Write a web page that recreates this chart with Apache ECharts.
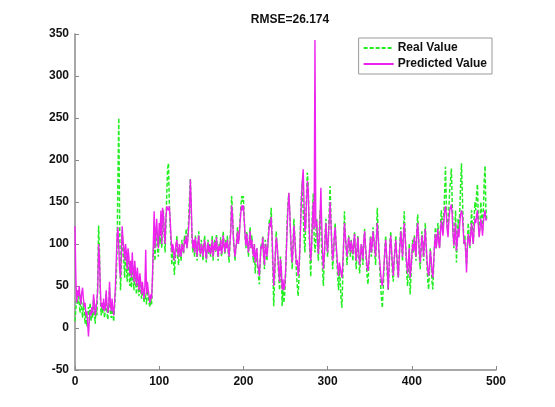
<!DOCTYPE html>
<html>
<head>
<meta charset="utf-8">
<script src="https://cdn.jsdelivr.net/npm/echarts@6/dist/echarts.min.js"></script>
<style>
  html, body { margin: 0; padding: 0; background: #fff; }
  #chart { width: 555px; height: 407px; }
</style>
</head>
<body>
<div id="chart"></div>
<script>
// Observed series, one value per sample (sample index is the x value)
const realValue = [
  8, 22, 35, 28, 45, 30, 18, 40, 25, 12,
  30, 20, 5, 18, 2, 10, 25, 15, 30, 8,
  20, 12, 35, 18, 5, 28, 15, 60, 122, 95,
  40, 15, 25, 18, 30, 12, 22, 40, 18, 10,
  25, 48, 20, 12, 30, 15, 8, 25, 40, 60,
  95, 180, 250, 130, 45, 70, 115, 98, 80, 60,
  90, 75, 55, 85, 70, 50, 65, 48, 80, 60,
  45, 70, 55, 40, 62, 50, 38, 55, 45, 35,
  48, 40, 30, 42, 35, 28, 45, 38, 30, 25,
  35, 28, 55, 90, 110, 80, 105, 120, 95, 85,
  115, 100, 130, 95, 120, 140, 110, 90, 125, 160,
  190, 196, 150, 120, 100, 75, 95, 85, 63, 80,
  95, 110, 85, 75, 100, 90, 80, 105, 95, 88,
  110, 100, 118, 95, 110, 130, 155, 178, 140, 105,
  90, 100, 85, 110, 95, 80, 100, 115, 90, 85,
  105, 95, 80, 100, 110, 90, 78, 95, 105, 88,
  100, 85, 95, 110, 80, 98, 105, 90, 112, 95,
  80, 100, 92, 108, 85, 95, 115, 100, 88, 105,
  95, 110, 90, 78, 100, 120, 157, 140, 110, 95,
  80, 95, 105, 120, 100, 110, 130, 145, 157, 150,
  157, 130, 110, 95, 115, 100, 85, 105, 120, 95,
  110, 90, 78, 100, 65, 85, 95, 70, 60, 52,
  80, 100, 95, 110, 85, 70, 105, 95, 80, 100,
  118, 130, 125, 143, 110, 70, 26, 55, 90, 115,
  100, 80, 60, 45, 85, 70, 26, 50, 30, 40,
  60, 95, 130, 150, 160, 140, 110, 85, 70, 100,
  130, 110, 90, 65, 50, 38, 60, 95, 130, 160,
  175, 140, 110, 90, 125, 160, 185, 170, 120, 85,
  61, 100, 140, 160, 110, 90, 105, 130, 100, 80,
  110, 140, 120, 95, 70, 50, 80, 110, 130, 100,
  85, 110, 140, 169, 130, 95, 70, 85, 110, 125,
  100, 80, 60, 45, 70, 55, 35, 24, 60, 100,
  139, 110, 95, 75, 90, 110, 100, 85, 105, 95,
  80, 100, 115, 90, 70, 95, 110, 85, 65, 80,
  100, 90, 75, 105, 118, 95, 80, 60, 52, 75,
  95, 110, 85, 100, 120, 105, 90, 75, 110, 143,
  115, 90, 70, 50, 35, 24, 45, 70, 95, 110,
  85, 60, 45, 70, 100, 115, 90, 65, 55, 80,
  95, 110, 85, 70, 60, 85, 105, 120, 100, 80,
  110, 139, 115, 90, 65, 50, 75, 100, 40, 60,
  85, 105, 90, 110, 95, 80, 120, 135, 110, 85,
  70, 95, 115, 100, 80, 105, 125, 100, 75, 55,
  46, 70, 95, 80, 55, 46, 75, 100, 120, 95,
  110, 125, 105, 95, 120, 140, 130, 115, 135, 160,
  192, 150, 120, 110, 140, 165, 175, 190, 150, 115,
  95, 120, 140, 78, 105, 130, 115, 140, 170, 196,
  160, 125, 100, 110, 90, 75, 100, 125, 110, 95,
  120, 140, 115, 100, 130, 150, 140, 160, 171, 130,
  110, 125, 150, 135, 115, 140, 175, 193, 140, 130
];

// Model output for the same samples
const predictedValue = [
  121, 60, 30, 45, 38, 50, 35, 28, 42, 48,
  35, 25, 30, 15, 20, 5, -10, 10, 20, 15,
  25, 18, 40, 30, 15, 22, 20, 45, 100, 85,
  50, 25, 30, 22, 35, 20, 25, 45, 28, 18,
  25, 55, 30, 20, 35, 22, 15, 30, 50, 80,
  110, 120, 95, 70, 60, 85, 121, 105, 95, 80,
  100, 90, 70, 95, 85, 65, 80, 60, 90, 70,
  55, 80, 65, 50, 72, 60, 45, 65, 55, 40,
  55, 45, 35, 50, 93, 40, 55, 45, 38, 30,
  40, 35, 60, 100, 139, 95, 115, 130, 105, 95,
  125, 110, 140, 100, 143, 135, 115, 100, 130, 145,
  147, 140, 145, 130, 110, 90, 100, 95, 80, 90,
  100, 105, 90, 85, 100, 92, 85, 100, 95, 90,
  105, 100, 110, 95, 105, 120, 140, 177, 150, 110,
  95, 105, 90, 108, 98, 85, 102, 110, 92, 88,
  100, 95, 85, 98, 105, 92, 82, 95, 102, 90,
  98, 88, 95, 105, 85, 96, 102, 92, 108, 95,
  85, 98, 92, 105, 88, 95, 110, 100, 90, 102,
  95, 105, 92, 85, 100, 115, 146, 135, 110, 95,
  85, 95, 102, 115, 100, 108, 125, 138, 146, 140,
  146, 128, 110, 98, 112, 100, 90, 102, 115, 95,
  105, 92, 85, 100, 78, 88, 95, 75, 70, 62,
  82, 98, 95, 108, 88, 75, 100, 95, 85, 98,
  112, 125, 120, 132, 110, 80, 50, 65, 88, 108,
  100, 85, 68, 55, 82, 72, 46, 58, 45, 50,
  65, 90, 120, 145, 161, 140, 112, 90, 78, 98,
  122, 108, 90, 75, 81, 62, 70, 92, 125, 155,
  175, 189, 150, 115, 120, 150, 175, 165, 125, 95,
  80, 98, 128, 150, 118, 343, 120, 128, 105, 88,
  105, 130, 167, 125, 90, 70, 85, 105, 125, 102,
  90, 108, 130, 150, 125, 98, 80, 90, 108, 120,
  102, 88, 72, 62, 78, 80, 78, 60, 75, 100,
  125, 110, 98, 85, 95, 108, 100, 90, 104, 96,
  88, 100, 112, 92, 80, 95, 108, 90, 75, 85,
  100, 92, 82, 105, 115, 98, 85, 72, 68, 80,
  95, 108, 90, 100, 115, 105, 95, 85, 105, 125,
  110, 92, 78, 65, 55, 50, 60, 75, 92, 105,
  88, 70, 46, 72, 98, 110, 92, 75, 62, 80,
  92, 105, 88, 75, 60, 82, 100, 115, 100, 85,
  105, 125, 110, 92, 75, 65, 80, 95, 60, 70,
  85, 100, 92, 108, 95, 85, 115, 125, 108, 90,
  78, 95, 110, 100, 85, 102, 118, 100, 82, 68,
  62, 75, 92, 82, 68, 60, 78, 98, 112, 95,
  105, 118, 102, 95, 112, 128, 120, 110, 125, 140,
  145, 135, 118, 108, 128, 140, 138, 147, 135, 112,
  98, 112, 125, 92, 102, 118, 108, 125, 135, 140,
  135, 118, 100, 105, 92, 66, 95, 112, 105, 98,
  112, 125, 110, 100, 118, 130, 125, 135, 140, 122,
  108, 118, 130, 122, 110, 125, 135, 140, 128, 130
];

const seriesNames = ['Real Value', 'Predicted Value'];
const titleText = 'RMSE=26.174';
const xTicks = { min: 0, max: 500, step: 100 };
const yTicks = { min: -50, max: 350, step: 50 };

const toPairs = arr => arr.map((v, i) => [i, v]);

const FONT = '"Liberation Sans", Arial, sans-serif';
const AXIS_GREY = '#8a8a8a';

const chart = echarts.init(document.getElementById('chart'), null, { renderer: 'canvas' });

const axisCommon = {
  type: 'value',
  axisLine: { show: true, onZero: false, lineStyle: { color: AXIS_GREY, width: 1.5 } },
  axisTick: { show: true, inside: true, length: 4, lineStyle: { color: AXIS_GREY } },
  splitLine: { show: false },
  axisLabel: { color: '#111', fontSize: 12, fontFamily: FONT, fontWeight: 'bold' }
};

chart.setOption({
  animation: false,
  backgroundColor: '#ffffff',
  title: {
    text: titleText,
    left: 285,
    textAlign: 'center',
    top: 9,
    textStyle: { fontSize: 12, fontWeight: 'bold', color: '#111', fontFamily: FONT }
  },
  legend: {
    data: seriesNames,
    orient: 'vertical',
    right: 63,
    top: 38,
    backgroundColor: '#ffffff',
    borderColor: '#999',
    borderWidth: 1,
    borderRadius: 0,
    padding: [4, 5, 4, 4],
    itemGap: 4,
    itemWidth: 30,
    itemHeight: 14,
    itemStyle: { opacity: 0 },
    textStyle: { fontSize: 12, fontWeight: 'bold', color: '#111', fontFamily: FONT, padding: [0, 0, 0, -1] }
  },
  grid: { left: 75, right: 59, top: 34, bottom: 37, containLabel: false },
  xAxis: Object.assign({}, axisCommon, {
    min: xTicks.min, max: xTicks.max, interval: xTicks.step,
    axisLabel: Object.assign({}, axisCommon.axisLabel, { margin: 6 })
  }),
  yAxis: Object.assign({}, axisCommon, {
    min: yTicks.min, max: yTicks.max, interval: yTicks.step,
    axisLabel: Object.assign({}, axisCommon.axisLabel, { margin: 6 })
  }),
  series: [
    {
      name: seriesNames[0],
      type: 'line',
      data: toPairs(realValue),
      showSymbol: false,
      symbol: 'none',
      lineStyle: { color: '#22ee22', width: 1.5, type: [4, 2] },
      itemStyle: { color: '#22ee22' },
      z: 2
    },
    {
      name: seriesNames[1],
      type: 'line',
      data: toPairs(predictedValue),
      showSymbol: false,
      symbol: 'none',
      lineStyle: { color: '#ee22ee', width: 1.4 },
      itemStyle: { color: '#ee22ee' },
      z: 3
    }
  ]
});
</script>
</body>
</html>
